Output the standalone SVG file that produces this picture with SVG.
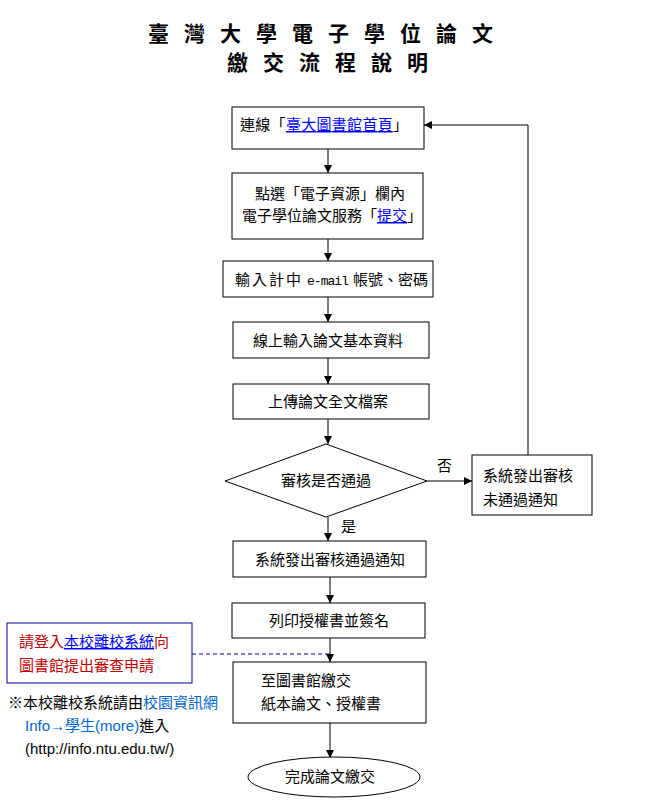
<svg xmlns="http://www.w3.org/2000/svg" width="645" height="807" viewBox="0 0 645 807">
<style>
text{font-family:"Liberation Sans","Noto Sans CJK TC",sans-serif;font-size:15px;fill:#000}
.title{font-family:"Noto Sans CJK TC",sans-serif;font-size:21px;font-weight:bold;letter-spacing:15px}
.box{fill:#fff;stroke:#000;stroke-width:1}
.c{text-anchor:middle}
.link{fill:#0000ff;text-decoration:underline}
.mono{font-family:"Liberation Mono",monospace;font-size:13px}
.red{fill:#c00000}
.lb{fill:#0066cc}
.edge{fill:none;stroke:#000;stroke-width:1}
</style>
<defs>
<marker id="ah" viewBox="0 0 10 10" refX="10" refY="5" markerWidth="8" markerHeight="8" markerUnits="userSpaceOnUse" orient="auto">
<path d="M0,0 L10,5 L0,10 z" fill="#000"/>
</marker>
</defs>
<rect width="645" height="807" fill="#fff"/>
<g id="title">
<text class="title" x="148" y="41">臺灣大學電子學位論文</text>
<text class="title" x="227" y="70">繳交流程說明</text>
</g>
<g id="connectors">
<line class="edge" x1="328" y1="149" x2="328" y2="173" marker-end="url(#ah)"/>
<line class="edge" x1="328" y1="239" x2="328" y2="261" marker-end="url(#ah)"/>
<line class="edge" x1="328" y1="297" x2="328" y2="322" marker-end="url(#ah)"/>
<line class="edge" x1="328" y1="358" x2="328" y2="384" marker-end="url(#ah)"/>
<line class="edge" x1="328" y1="419" x2="328" y2="444" marker-end="url(#ah)"/>
<line class="edge" x1="427" y1="481" x2="472" y2="481" marker-end="url(#ah)"/>
<polyline class="edge" points="528,455 528,125 424,125" marker-end="url(#ah)"/>
<line class="edge" x1="328" y1="517" x2="328" y2="541" marker-end="url(#ah)"/>
<line class="edge" x1="330" y1="577" x2="330" y2="603" marker-end="url(#ah)"/>
<line class="edge" x1="330" y1="638" x2="330" y2="662" marker-end="url(#ah)"/>
<line class="edge" x1="330" y1="723" x2="330" y2="758" marker-end="url(#ah)"/>
<line x1="192" y1="654" x2="330" y2="654" stroke="#0000a0" stroke-width="1" stroke-dasharray="4,3"/>
<text x="437" y="471">否</text>
<text x="341" y="532">是</text>
</g>
<g id="n1">
<rect class="box" x="232" y="107" width="192" height="42"/>
<text x="240" y="130" textLength="168">連線「<tspan class="link">臺大圖書館首頁</tspan>」</text>
</g>
<g id="n2">
<rect class="box" x="232" y="173" width="191" height="66"/>
<text class="c" x="330" y="199">點選「電子資源」欄內</text>
<text class="c" x="332" y="221">電子學位論文服務「<tspan class="link">提交</tspan>」</text>
</g>
<g id="n3">
<rect class="box" x="223" y="261" width="210" height="36"/>
<text x="235" y="285" textLength="66">輸入計中</text>
<text class="mono" x="307" y="285" textLength="42">e-mail</text>
<text x="353" y="285" textLength="75">帳號、密碼</text>
</g>
<g id="n4">
<rect class="box" x="233" y="322" width="196" height="36"/>
<text class="c" x="328" y="346">線上輸入論文基本資料</text>
</g>
<g id="n5">
<rect class="box" x="233" y="384" width="196" height="35"/>
<text class="c" x="328" y="407">上傳論文全文檔案</text>
</g>
<g id="n6">
<polygon class="box" points="326,444 427,481 326,517 225,481"/>
<text class="c" x="326" y="486">審核是否通過</text>
</g>
<g id="n7">
<rect class="box" x="472" y="455" width="120" height="60"/>
<text x="483" y="481">系統發出審核</text>
<text x="483" y="505">未通過通知</text>
</g>
<g id="n8">
<rect class="box" x="233" y="541" width="193" height="36"/>
<text class="c" x="330" y="565">系統發出審核通過通知</text>
</g>
<g id="n9">
<rect class="box" x="232" y="603" width="193" height="35"/>
<text class="c" x="329" y="626">列印授權書並簽名</text>
</g>
<g id="n10">
<rect class="box" x="233" y="662" width="193" height="61"/>
<text x="261" y="686">至圖書館繳交</text>
<text x="261" y="709">紙本論文、授權書</text>
</g>
<g id="n11">
<ellipse class="box" cx="334" cy="777" rx="86" ry="20"/>
<text class="c" x="330" y="782">完成論文繳交</text>
</g>
<g id="note">
<rect x="7" y="623" width="185" height="60" fill="#fff" stroke="#0000a0" stroke-width="1"/>
<text x="19" y="647"><tspan class="red">請登入</tspan><tspan class="link">本校離校系統</tspan><tspan class="red">向</tspan></text>
<text class="red" x="19" y="671">圖書館提出審查申請</text>
<text x="8" y="708">※本校離校系統請由<tspan class="lb">校園資訊網</tspan></text>
<text x="25" y="731"><tspan class="lb">Info→學生(more)</tspan>進入</text>
<text x="25" y="754">(http://info.ntu.edu.tw/)</text>
</g>
</svg>
